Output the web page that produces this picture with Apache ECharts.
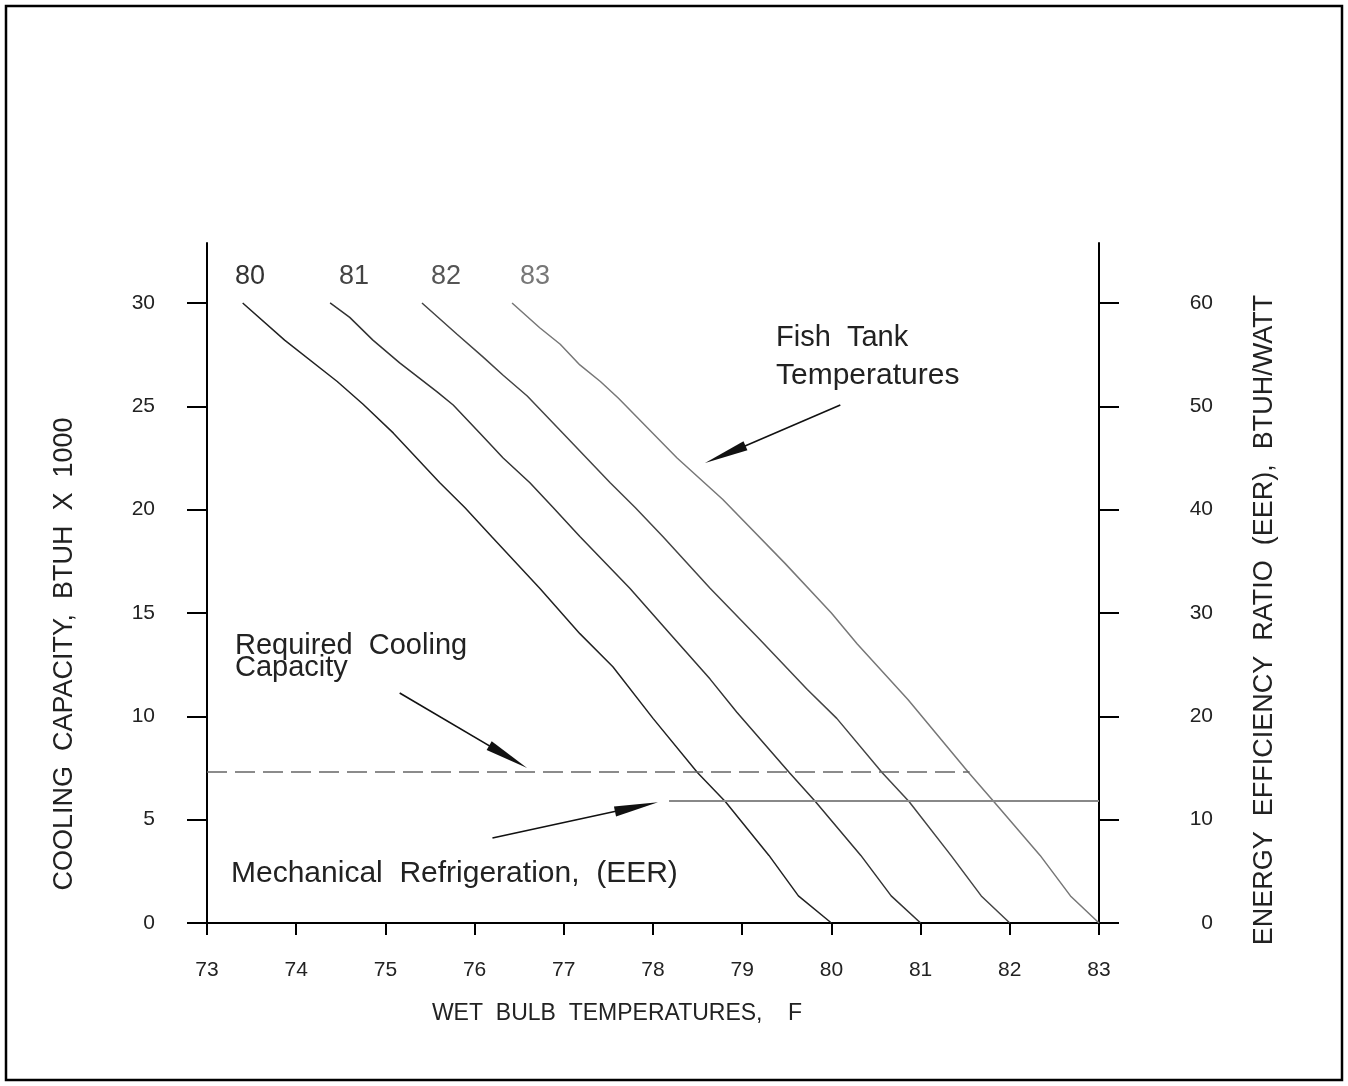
<!DOCTYPE html>
<html><head><meta charset="utf-8">
<script src="https://cdn.jsdelivr.net/npm/echarts@6/dist/echarts.min.js"></script>
<style>html,body{margin:0;padding:0;background:#fff}#c{width:1348px;height:1086px}</style>
</head><body><div id="c"></div>
<script>
// ---- data ----
const tankTemps = ['80', '81', '82', '83'];
const wb80 = [73.4, 73.87, 74.46, 74.75, 75.09, 75.61, 75.89, 76.19, 76.73, 77.18, 77.55, 78.0, 78.5, 78.81, 79.3, 79.63, 80.0];
const cap80 = [30, 28.2, 26.2, 25.1, 23.7, 21.3, 20.1, 18.7, 16.2, 14.0, 12.4, 9.9, 7.27, 5.88, 3.27, 1.31, 0];
const wb81 = [74.38, 74.6, 74.86, 75.16, 75.58, 75.76, 76.06, 76.32, 76.62, 76.88, 77.18, 77.74, 78.19, 78.64, 78.94, 79.53, 79.82, 80.33, 80.67, 81.0];
const cap81 = [30, 29.3, 28.2, 27.1, 25.7, 25.06, 23.7, 22.5, 21.3, 20.1, 18.7, 16.2, 14.0, 11.8, 10.2, 7.27, 5.88, 3.27, 1.31, 0];
const wb82 = [75.41, 75.8, 76.09, 76.32, 76.59, 76.99, 77.52, 77.8, 78.11, 78.64, 79.2, 79.73, 80.06, 80.57, 80.87, 81.34, 81.68, 82.0];
const cap82 = [30, 28.5, 27.4, 26.5, 25.5, 23.7, 21.3, 20.1, 18.7, 16.2, 13.7, 11.3, 9.9, 7.27, 5.88, 3.27, 1.31, 0];
const wb83 = [76.42, 76.73, 76.96, 77.18, 77.41, 77.61, 78.27, 78.78, 79.48, 80.0, 80.29, 80.86, 81.54, 81.82, 82.34, 82.68, 83.0];
const cap83 = [30, 28.8, 28.0, 27.0, 26.2, 25.4, 22.5, 20.5, 17.4, 15.0, 13.5, 10.8, 7.27, 5.88, 3.27, 1.31, 0];
const requiredCapacity = 7.3;          // BTUH x 1000
const requiredRange = [73, 81.55];     // wet bulb F
const eerValue = 11.8;                 // BTUH/WATT (right axis)
const eerRange = [78.18, 83];
const leftTicks = [0, 5, 10, 15, 20, 25, 30];
const rightTicks = [0, 10, 20, 30, 40, 50, 60];
const xTicks = [73, 74, 75, 76, 77, 78, 79, 80, 81, 82, 83];
// annotation arrows: [start, end] in data units (left axis)
const arrowRequired = [[75.16, 11.13], [76.376, 8.04]];
const arrowEER = [[76.2, 4.11], [77.815, 5.62]];
const arrowFish = [[80.1, 25.06], [78.81, 22.67]];

const curves = [[wb80, cap80], [wb81, cap81], [wb82, cap82], [wb83, cap83]];
const curveColors = ['#222', '#333', '#444', '#777'];
const labelColors = ['#333', '#444', '#555', '#777'];
const FONT = 'Liberation Sans, Arial, sans-serif';

const zip = (a, b) => a.map((v, i) => [v, b[i]]);

const series = curves.map((c, i) => ({
  name: tankTemps[i], type: 'line', data: zip(c[0], c[1]),
  showSymbol: false, symbol: 'none', silent: true,
  lineStyle: { color: curveColors[i], width: 1.5 }
}));
series.push({
  name: 'Required Cooling Capacity', type: 'line', showSymbol: false, symbol: 'none', silent: true,
  data: requiredRange.map(x => [x, requiredCapacity]),
  lineStyle: { color: '#666', width: 1.5, type: [20, 8] }
});
series.push({
  name: 'Mechanical Refrigeration (EER)', type: 'line', yAxisIndex: 1, showSymbol: false, symbol: 'none', silent: true,
  data: eerRange.map(x => [x, eerValue]),
  lineStyle: { color: '#888', width: 2 }
});
series.push({
  name: 'arrows', type: 'line', data: [], silent: true,
  markLine: {
    silent: true, animation: false,
    symbol: ['none', 'triangle'], symbolSize: [10, 44],
    lineStyle: { color: '#111', width: 1.6, type: 'solid' },
    label: { show: false },
    data: [arrowRequired, arrowEER, arrowFish].map(a => [{ coord: a[0] }, { coord: a[1] }])
  }
});

const txt = (text, x, y, opts) => Object.assign({
  type: 'text', x: x, y: y, silent: true,
  style: Object.assign({ text: text, font: '26px ' + FONT, fill: '#222', textAlign: 'left', textVerticalAlign: 'middle' }, opts || {})
});

const graphic = [
  { type: 'rect', shape: { x: 6, y: 6, width: 1336, height: 1074 }, style: { fill: 'none', stroke: '#000', lineWidth: 2.5 }, silent: true },
  txt('Required  Cooling', 235, 646, { font: '29px ' + FONT }),
  txt('Capacity', 235, 668, { font: '29px ' + FONT }),
  txt('Fish  Tank', 776, 338, { font: '29px ' + FONT }),
  txt('Temperatures', 776, 376, { font: '30px ' + FONT }),
  txt('Mechanical  Refrigeration,  (EER)', 231, 874, { font: '30px ' + FONT }),
  txt('WET  BULB  TEMPERATURES,    F', 617, 1014, { font: '23px ' + FONT, textAlign: 'center' }),
  Object.assign(txt('COOLING  CAPACITY,  BTUH  X  1000', 65, 654, { font: '27px ' + FONT, textAlign: 'center' }), { rotation: Math.PI / 2 }),
  Object.assign(txt('ENERGY  EFFICIENCY  RATIO  (EER),  BTUH/WATT', 1265, 620, { font: '27px ' + FONT, textAlign: 'center' }), { rotation: Math.PI / 2 })
];
const labelX = [235, 339, 431, 520];
tankTemps.forEach((t, i) => graphic.push(txt(t, labelX[i], 277, { font: '27px ' + FONT, fill: labelColors[i] })));

const axisLine = { show: true, onZero: false, lineStyle: { color: '#000', width: 2 } };
const tickStyle = { color: '#000', width: 2 };
const labelStyle = { color: '#222', fontSize: 21, fontFamily: FONT };

const option = {
  animation: false,
  backgroundColor: '#fff',
  grid: { left: 207, right: 249, top: 243, bottom: 163, containLabel: false },
  xAxis: {
    type: 'value', min: 73, max: 83, interval: 1,
    axisLine: axisLine,
    axisTick: { show: true, length: 12, lineStyle: tickStyle, customValues: xTicks },
    axisLabel: Object.assign({ margin: 37, customValues: xTicks }, labelStyle),
    splitLine: { show: false }
  },
  yAxis: [{
    type: 'value', min: 0, max: 32.9, interval: 5, position: 'left',
    axisLine: axisLine,
    axisTick: { show: true, length: 20, lineStyle: tickStyle, customValues: leftTicks },
    axisLabel: Object.assign({ margin: 52, customValues: leftTicks, formatter: v => leftTicks.includes(v) ? String(v) : '' }, labelStyle),
    splitLine: { show: false }
  }, {
    type: 'value', min: 0, max: 65.8, interval: 10, position: 'right',
    axisLine: axisLine,
    axisTick: { show: true, length: 20, lineStyle: tickStyle, customValues: rightTicks },
    axisLabel: Object.assign({ margin: 114, align: 'right', customValues: rightTicks, formatter: v => rightTicks.includes(v) ? String(v) : '' }, labelStyle),
    splitLine: { show: false }
  }],
  series: series,
  graphic: graphic
};
const chart = echarts.init(document.getElementById('c'), null, { renderer: 'canvas' });
chart.setOption(option);
</script>
</body></html>
